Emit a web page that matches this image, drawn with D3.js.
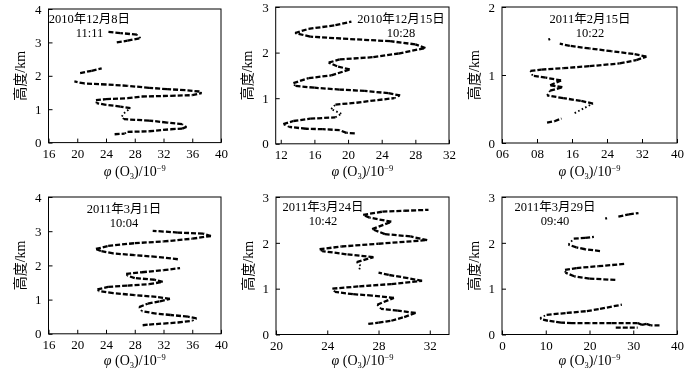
<!DOCTYPE html>
<html>
<head>
<meta charset="utf-8">
<script src="https://cdn.jsdelivr.net/npm/d3@7"></script>
<style>
  body { margin: 0; background: #fff; }
  svg { will-change: transform; }
  text { font-family: "Liberation Serif", "Times New Roman", "Noto Sans CJK SC", serif; fill: #000; }
</style>
</head>
<body>
<svg id="chart" width="700" height="370"></svg>
<script>
// ozone profiles: [phi(O3) / 1e-9, height km], null marks a gap in the record
var p1Data = [[25.2,0.25],[26.6,0.27],[27,0.32],[30,0.34],[33,0.4],[34.6,0.42],[35.2,0.47],[34.6,0.55],[32.5,0.6],[30,0.66],[26.5,0.7],[26.2,0.78],[26.5,0.88],[27.4,1.03],[26,1.08],[24,1.13],[22.7,1.18],[22.6,1.27],[24,1.3],[27,1.33],[29,1.38],[33,1.4],[36,1.42],[37.3,1.48],[37,1.53],[35,1.57],[32.5,1.6],[30,1.64],[27,1.7],[24,1.74],[21,1.77],[19.6,1.83],null,[20.4,2.08],[22,2.15],[23.4,2.22],null,[25.5,3.0],[27,3.05],[28.8,3.13],[28.3,3.23],[26,3.28],[24.2,3.32]];
var p2Data = [[20.8,0.23],[19.8,0.24],[19,0.3],[17,0.32],[15,0.33],[13,0.37],[12.3,0.43],[13.5,0.5],[15.5,0.55],[18.5,0.58],[19.2,0.66],[18,0.76],[18.5,0.86],[21,0.9],[23.5,0.96],[25.5,1.0],[26.2,1.06],[24.8,1.11],[22,1.16],[19,1.19],[16,1.23],[13.7,1.27],[13.5,1.33],[15.3,1.44],[18,1.5],[20.2,1.63],[18.7,1.7],[17.7,1.78],[19,1.85],[23,1.9],[26,1.98],[29.2,2.1],[28,2.18],[25,2.25],[20,2.3],[15.5,2.35],[13.7,2.43],[15.3,2.52],[18.5,2.6],[20.4,2.68]];
var p3Data = [[10.3,0.30],[12,0.32],[13.6,0.36],null,[16.6,0.44],[19,0.52],[20.8,0.58],[18,0.62],[14,0.66],[10.3,0.7],[11,0.77],[13.8,0.82],[11,0.85],[13.5,0.92],[10,0.96],[7,0.99],[6.5,1.06],[9,1.08],[14,1.1],[20,1.13],[26.9,1.17],[30.7,1.22],[33,1.27],[30,1.31],[25,1.35],[20,1.39],[15.5,1.43],[13.2,1.46],null,[10.6,1.52],[11.0,1.53]];
var p4Data = [[29.1,0.25],[30,0.27],[32,0.3],[34,0.33],[36,0.38],[36.6,0.45],[35.4,0.5],[33,0.55],[31,0.59],[29,0.66],[28.6,0.78],[29.8,0.88],[31.5,0.95],[32.9,1.02],[31,1.08],[28,1.13],[25,1.19],[23,1.25],[22.8,1.3],[24.3,1.37],[27,1.41],[30,1.45],[31.9,1.52],[30.8,1.58],[28,1.63],[27,1.7],[26.8,1.75],[29,1.8],[32,1.86],[34.3,1.92],null,[34,2.18],[31,2.25],[28,2.3],[25,2.35],[23.3,2.42],[22.6,2.48],[24.3,2.57],[28,2.65],[32,2.7],[36,2.78],[38.6,2.86],[37.5,2.93],[34,2.96],[32,2.99],[30.5,3.01]];
var p5Data = [[27.2,0.23],[28,0.26],[29,0.3],[30,0.38],[30.9,0.47],[29.5,0.52],[28.2,0.56],[27.9,0.65],[29.2,0.8],[27.5,0.85],[26,0.88],[24.6,0.93],[24.4,1.0],[26.5,1.05],[29,1.1],[31.4,1.17],[30.3,1.23],[28.8,1.3],[28,1.35],null,[26.5,1.42],[26.6,1.5],[26.3,1.58],[27.6,1.69],[25.5,1.75],[23.6,1.82],[23.4,1.86],[25.1,1.92],[28,1.98],[31.8,2.06],[30.5,2.14],[28.5,2.19],[27.5,2.3],[29,2.46],[27.3,2.55],[26.8,2.61],[28.3,2.68],[30,2.7],[31.9,2.72]];
var p6Data = [[26,0.15],[31,0.15],null,[36,0.2],[34,0.2],[33,0.23],[32,0.21],[31,0.25],[25,0.25],[20,0.25],[16,0.25],[13.5,0.26],[12,0.28],[10.5,0.3],[9,0.33],[8.7,0.36],[10.2,0.43],[14.8,0.47],[19.4,0.51],[22.4,0.56],[27.4,0.65],null,[25.9,1.19],[20,1.22],[16.5,1.27],[14.5,1.35],[14.4,1.41],[17,1.45],[22,1.49],[28,1.54],null,[22.4,1.82],[19,1.86],[17,1.9],[15.2,1.96],[16.4,2.09],[19,2.11],[21,2.13],null,[23.6,2.53],[24,2.54],null,[26.6,2.57],[29,2.62],[31.2,2.65]];

// x tick values and the labels printed under them
var p1Ticks = [16,20,24,28,32,36,40];
var p2Ticks = [12,16,20,24,28,32];
var p3Ticks = [0,8,16,24,32,40];
var p3TickLabels = ['06','08','16','24','32','40'];
var p4Ticks = [16,20,24,28,32,36,40];
var p5Ticks = [20,24,28,32];
var p6Ticks = [0,10,20,30,40];

var p1Title = ['2010年12月8日', '11:11'];
var p2Title = ['2010年12月15日', '10:28'];
var p3Title = ['2011年2月15日', '10:22'];
var p4Title = ['2011年3月1日', '10:04'];
var p5Title = ['2011年3月24日', '10:42'];
var p6Title = ['2011年3月29日', '09:40'];

var panels = [
  {data: p1Data, ticks: p1Ticks, title: p1Title, xd: [16,40], yMax: 4, x0: 48.5, x1: 221, y0: 9, y1: 142.6, tx: 89.5, ty: 22.5, lab: 33},
  {data: p2Data, ticks: p2Ticks, title: p2Title, xd: [11.4,32], yMax: 3, x0: 275.7, x1: 449, y0: 7, y1: 143.8, tx: 401, ty: 22.5, lab: 32},
  {data: p3Data, ticks: p3Ticks, labels: p3TickLabels, title: p3Title, xd: [0,40], yMax: 2, x0: 502, x1: 677, y0: 7, y1: 143, tx: 590, ty: 22.5, lab: 33},
  {data: p4Data, ticks: p4Ticks, title: p4Title, xd: [16,40], yMax: 4, x0: 48.5, x1: 221, y0: 197, y1: 333.8, tx: 124, ty: 213, lab: 31},
  {data: p5Data, ticks: p5Ticks, title: p5Title, xd: [20,33.5], yMax: 3, x0: 276, x1: 449, y0: 197, y1: 334.5, tx: 323, ty: 210.5, lab: 30.5},
  {data: p6Data, ticks: p6Ticks, title: p6Title, xd: [0,40], yMax: 3, x0: 502, x1: 677, y0: 197, y1: 334.5, tx: 555, ty: 210.5, lab: 30.5}
];

var svg = d3.select('#chart');

panels.forEach(function(p) {
  var x = d3.scaleLinear().domain(p.xd).range([p.x0, p.x1]);
  var y = d3.scaleLinear().domain([0, p.yMax]).range([p.y1, p.y0]);
  var g = svg.append('g');

  // x axis, ticks pointing inward
  var xAxis = d3.axisBottom(x)
      .tickValues(p.ticks)
      .tickSizeInner(-4)
      .tickSizeOuter(0)
      .tickPadding(6);
  if (p.labels) {
    xAxis.tickFormat(function(d, i) { return p.labels[i]; });
  }
  g.append('g')
      .attr('transform', 'translate(0,' + p.y1 + ')')
      .call(xAxis);

  var yAxis = d3.axisLeft(y)
      .ticks(p.yMax)
      .tickFormat(d3.format('d'))
      .tickSizeInner(-4)
      .tickSizeOuter(0)
      .tickPadding(7);
  g.append('g')
      .attr('transform', 'translate(' + p.x0 + ',0)')
      .call(yAxis);

  g.selectAll('.domain').remove();
  g.selectAll('.tick line').attr('stroke', '#000').attr('stroke-width', 1);
  g.selectAll('.tick text')
      .style('font-family', '"Liberation Serif", serif')
      .style('font-size', '13px')
      .attr('fill', '#000');

  // frame
  g.append('rect')
      .attr('x', p.x0)
      .attr('y', p.y0)
      .attr('width', p.x1 - p.x0)
      .attr('height', p.y1 - p.y0)
      .attr('fill', 'none')
      .attr('stroke', '#000')
      .attr('stroke-width', 1);

  // profile: dashed where it runs sideways, dotted where it climbs
  var clip = 'clip' + Math.round(p.x0) + '_' + Math.round(p.y0);
  g.append('clipPath').attr('id', clip)
    .append('rect')
      .attr('x', p.x0).attr('y', p.y0)
      .attr('width', p.x1 - p.x0).attr('height', p.y1 - p.y0);

  var lines = g.append('g').attr('clip-path', 'url(#' + clip + ')');
  for (var i = 0; i < p.data.length - 1; i++) {
    var a = p.data[i], b = p.data[i + 1];
    if (!a || !b) continue;
    var ax = x(a[0]), ay = y(a[1]), bx = x(b[0]), by = y(b[1]);
    var steep = Math.abs(by - ay) > 0.45 * Math.abs(bx - ax);
    lines.append('line')
        .attr('x1', ax).attr('y1', ay)
        .attr('x2', bx).attr('y2', by)
        .attr('stroke', '#000')
        .attr('stroke-width', steep ? 1.8 : 2.3)
        .attr('stroke-dasharray', steep ? '1.6,2.4' : '5,2');
  }

  // date / time
  var t = g.append('text')
      .attr('text-anchor', 'middle')
      .style('font-size', '12.5px');
  t.append('tspan').attr('x', p.tx).attr('y', p.ty).text(p.title[0]);
  t.append('tspan').attr('x', p.tx).attr('y', p.ty + 14).text(p.title[1]);

  // axis titles
  var xt = g.append('text')
      .attr('x', (p.x0 + p.x1) / 2)
      .attr('y', p.y1 + p.lab)
      .attr('text-anchor', 'middle')
      .style('font-size', '14px');
  xt.append('tspan').style('font-style', 'italic').text('φ');
  xt.append('tspan').text(' (O');
  xt.append('tspan').attr('dy', 3).style('font-size', '8.5px').text('3');
  xt.append('tspan').attr('dy', -3).text(')/10');
  xt.append('tspan').attr('dy', -5).style('font-size', '8.5px').text('−9');

  g.append('text')
      .attr('transform', 'translate(' + (p.x0 - 23.5) + ',' + ((p.y0 + p.y1) / 2) + ') rotate(-90)')
      .attr('text-anchor', 'middle')
      .style('font-size', '14px')
      .text('高度/km');
});
</script>
</body>
</html>
